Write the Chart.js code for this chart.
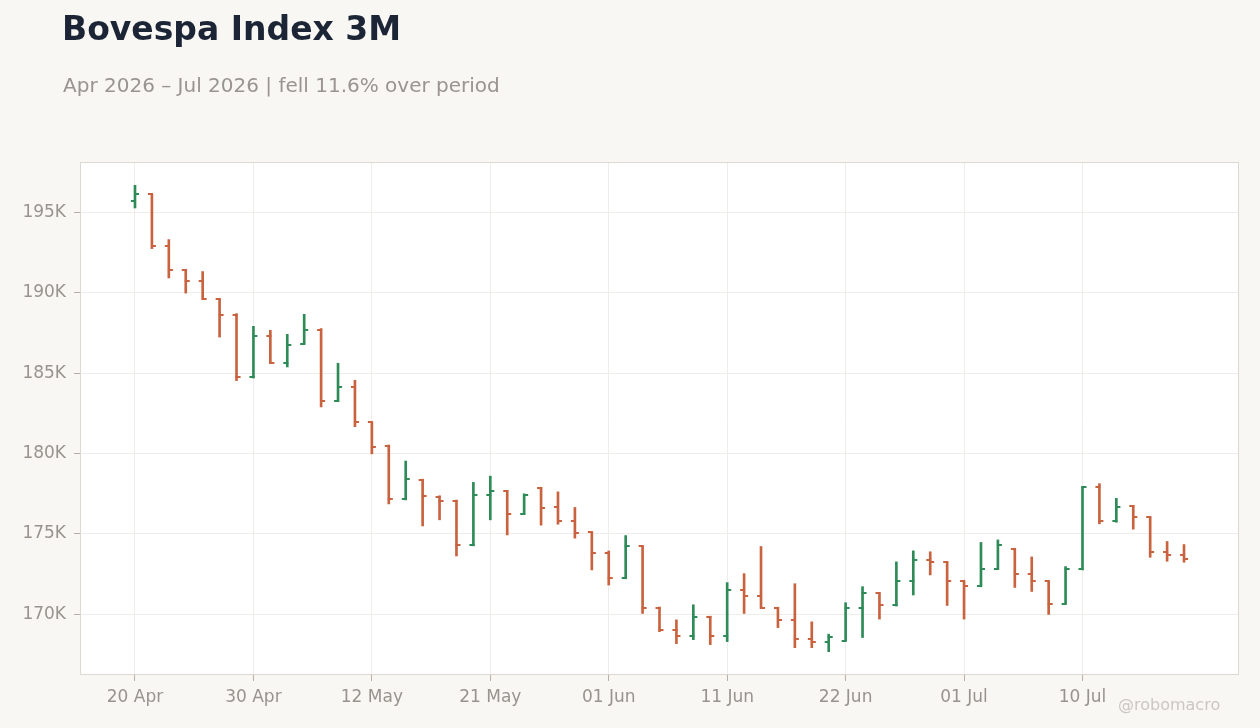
<!DOCTYPE html>
<html>
<head>
<meta charset="utf-8">
<script src="https://cdn.jsdelivr.net/npm/chart.js@4.4.1/dist/chart.umd.min.js"></script>
<style>
html,body{margin:0;padding:0;background:#f8f7f4;}
#wrap{position:relative;width:1260px;height:728px;overflow:hidden;font-family:"DejaVu Sans",sans-serif;background:#f8f7f4;}
#title{position:absolute;left:62px;top:12px;font-size:33px;line-height:33px;font-weight:bold;color:#1c2536;white-space:nowrap;}
#sub{position:absolute;left:63px;top:75px;font-size:20px;line-height:20px;color:#99948f;white-space:nowrap;}
#wm{position:absolute;left:1118px;top:697px;font-size:16px;line-height:16px;color:#cbc7c2;white-space:nowrap;}
canvas{position:absolute;left:0;top:0;}
</style>
</head>
<body>
<div id="wrap">
<canvas id="c" width="1260" height="728"></canvas>
<div id="title">Bovespa Index 3M</div>
<div id="sub">Apr 2026 – Jul 2026 | fell 11.6% over period</div>
<div id="wm">@robomacro</div>
</div>
<script>
// Trading days (categories)
const dates = [
  '20 Apr','22 Apr','23 Apr','24 Apr','27 Apr','28 Apr','29 Apr','30 Apr',
  '04 May','05 May','06 May','07 May','08 May','11 May','12 May','13 May','14 May','15 May',
  '18 May','19 May','20 May','21 May','22 May','25 May','26 May','27 May','28 May','29 May',
  '01 Jun','02 Jun','03 Jun','05 Jun','08 Jun','09 Jun','10 Jun','11 Jun','12 Jun',
  '15 Jun','16 Jun','17 Jun','18 Jun','19 Jun','22 Jun','23 Jun','24 Jun','25 Jun','26 Jun',
  '29 Jun','30 Jun','01 Jul','02 Jul','03 Jul','06 Jul','07 Jul','08 Jul','09 Jul','10 Jul',
  '13 Jul','14 Jul','15 Jul','16 Jul','17 Jul','20 Jul'
];
// OHLC values in thousands of points
const opens = [
  195.70,196.16,192.92,191.43,190.74,189.62,188.62,184.74,187.32,185.65,
  186.82,187.69,183.27,184.14,181.94,180.45,177.16,178.36,177.30,177.05,
  174.31,177.41,177.68,176.22,177.86,176.66,175.77,175.10,173.81,172.23,
  174.25,170.35,169.04,168.64,169.85,168.64,171.52,171.14,170.41,169.66,
  168.48,168.27,168.35,170.39,171.31,170.54,172.04,173.35,173.23,172.04,
  171.73,172.79,174.08,172.48,172.04,170.66,172.79,177.91,175.77,176.75,
  176.04,173.85,173.71
];
const highs = [
  196.70,196.16,193.32,191.47,191.33,189.64,188.71,187.92,187.67,187.42,
  188.67,187.78,185.62,184.56,181.96,180.53,179.53,178.40,177.37,177.10,
  178.20,178.59,177.70,177.49,177.90,177.61,176.64,175.12,173.93,174.89,
  174.27,170.44,169.64,170.58,169.87,171.96,172.52,174.21,170.43,171.89,
  169.52,168.75,170.71,171.71,171.33,173.25,173.94,173.88,173.25,172.06,
  174.46,174.62,174.10,173.56,172.06,172.96,177.94,178.12,177.21,176.77,
  176.06,174.52,174.33
];
const lows = [
  195.29,192.76,190.93,189.99,189.60,187.25,184.54,184.70,185.60,185.39,
  186.80,182.90,183.23,181.67,179.98,176.86,177.11,175.49,175.87,173.62,
  174.25,175.87,174.93,176.20,175.54,175.60,174.73,172.75,171.81,172.20,
  170.04,168.91,168.16,168.41,168.10,168.29,170.04,170.35,169.16,167.91,
  167.91,167.66,168.33,168.54,169.69,170.50,171.19,172.44,170.54,169.69,
  171.70,172.77,171.66,171.41,169.98,170.64,172.75,175.62,175.72,175.29,
  173.54,173.29,173.23
];
const closes = [
  196.16,192.92,191.43,190.74,189.64,188.62,184.74,187.32,185.64,186.76,
  187.69,183.27,184.14,181.98,180.40,177.16,178.42,177.37,177.03,174.31,
  177.41,177.68,176.22,177.41,176.60,175.77,175.08,173.81,172.23,174.23,
  170.35,169.02,168.64,169.85,168.64,171.52,171.14,170.37,169.66,168.48,
  168.27,168.60,170.39,171.29,170.54,172.04,173.35,173.23,172.04,171.73,
  172.79,174.29,172.48,172.04,170.66,172.79,177.92,175.77,176.66,176.04,
  173.85,173.71,173.41
];
const xTickLabels = ['20 Apr','30 Apr','12 May','21 May','01 Jun','11 Jun','22 Jun','01 Jul','10 Jul'];
const yTickStep = 5;

const UP = '#2e8b57', DOWN = '#c8623f';
const isUp = opens.map((o, i) => closes[i] >= o);
const colors = isUp.map(u => u ? UP : DOWN);

function tickCanvas(color, side) {
  const c = document.createElement('canvas');
  c.width = 10; c.height = 2;
  const g = c.getContext('2d');
  g.fillStyle = color;
  if (side === 'left') g.fillRect(1, 0, 5, 2); else g.fillRect(4, 0, 5, 2);
  return c;
}
const openUp = tickCanvas(UP, 'left'), openDn = tickCanvas(DOWN, 'left');
const closeUp = tickCanvas(UP, 'right'), closeDn = tickCanvas(DOWN, 'right');

const n = dates.length;
const lo = Math.min(...lows), hi = Math.max(...highs);
const yPad = (hi - lo) * 0.05;
const xPad = 3.25;
const tickIdx = xTickLabels.map(l => dates.indexOf(l));

const framePlugin = {
  id: 'frame',
  beforeDraw(chart) {
    const {ctx, chartArea: a} = chart;
    ctx.save();
    ctx.fillStyle = '#ffffff';
    ctx.fillRect(a.left, a.top, a.right - a.left, a.bottom - a.top);
    ctx.restore();
  },
  afterDraw(chart) {
    const {ctx, chartArea: a} = chart;
    ctx.save();
    ctx.strokeStyle = '#ddd8d1';
    ctx.lineWidth = 1;
    ctx.strokeRect(a.left + 0.5, a.top + 0.5, a.right - a.left - 1, a.bottom - a.top - 1);
    ctx.restore();
  }
};

new Chart(document.getElementById('c'), {
  type: 'bar',
  data: {
    datasets: [
      {
        type: 'bar',
        data: lows.map((l, i) => ({x: i, y: [l, highs[i]]})),
        backgroundColor: colors,
        borderWidth: 0,
        barThickness: 2,
        borderSkipped: false,
        order: 2
      },
      {
        type: 'scatter',
        data: opens.map((o, i) => ({x: i, y: o})),
        pointStyle: ctx => isUp[ctx.dataIndex] ? openUp : openDn,
        pointRadius: 1,
        order: 1
      },
      {
        type: 'scatter',
        data: closes.map((c, i) => ({x: i, y: c})),
        pointStyle: ctx => isUp[ctx.dataIndex] ? closeUp : closeDn,
        pointRadius: 1,
        order: 1
      }
    ]
  },
  options: {
    responsive: false,
    animation: false,
    events: [],
    layout: {padding: {top: 162, left: 0, right: 21, bottom: 13}},
    plugins: {legend: {display: false}, tooltip: {enabled: false}, title: {display: false}},
    scales: {
      x: {
        type: 'linear',
        offset: false,
        min: -xPad,
        max: n - 1 + xPad,
        afterBuildTicks: ax => { ax.ticks = tickIdx.map(v => ({value: v})); },
        afterFit: ax => { ax.height = 40; },
        grid: {offset: false, color: '#efedea', lineWidth: 1, drawTicks: true, tickLength: 6, tickColor: '#b5b0aa'},
        border: {display: false},
        ticks: {
          autoSkip: false, maxRotation: 0, padding: 6,
          color: '#98938d', font: {family: 'DejaVu Sans', size: 17},
          callback: v => dates[v]
        }
      },
      y: {
        type: 'linear',
        min: lo - yPad,
        max: hi + yPad,
        afterFit: ax => { ax.width = 80; },
        grid: {color: '#efedea', lineWidth: 1, drawTicks: true, tickLength: 6, tickColor: '#b5b0aa'},
        border: {display: false},
        ticks: {
          stepSize: yTickStep, includeBounds: false, padding: 8,
          color: '#98938d', font: {family: 'DejaVu Sans', size: 17},
          callback: v => v + 'K'
        }
      }
    }
  },
  plugins: [framePlugin]
});
</script>
</body>
</html>
